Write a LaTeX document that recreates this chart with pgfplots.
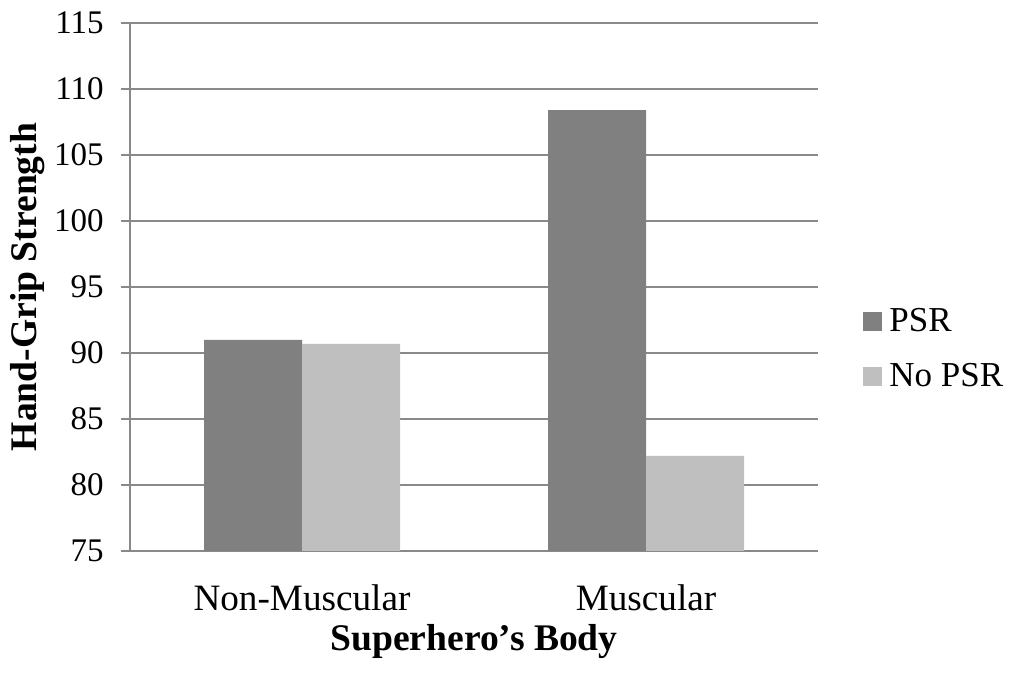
\documentclass[border=0pt]{standalone}
\usepackage{pgfplots}
\pgfplotsset{compat=1.18}
\usepackage{fontspec}
\setmainfont{Liberation Serif}
\definecolor{psr}{RGB}{128,128,128}
\definecolor{nopsr}{RGB}{191,191,191}
\definecolor{gridc}{RGB}{137,137,137}
\begin{document}
\begin{tikzpicture}
\path[use as bounding box] (-65pt,-61pt) rectangle (443pt,275.5pt);
\begin{axis}[
  at={(0,0)}, anchor=south west,
  scale only axis, width=344pt, height=264pt,
  ybar=0pt, bar width=49pt,
  xmin=-0.5, xmax=1.5, ymin=75, ymax=115,
  xtick={0,1}, xticklabels={Non-Muscular,Muscular},
  ytick={75,80,...,115},
  /pgf/number format/assume math mode=true,
  ymajorgrids, grid style={gridc, line width=0.75pt},
  axis x line*=bottom, axis y line*=left,
  axis line style={gridc, line width=0.75pt, -},
  x axis line style={draw=none},
  xtick style={draw=none},
  ytick style={gridc, line width=0.75pt},
  tick align=outside, major tick length=4.5pt,
  yticklabel style={font=\fontsize{16.5}{20}\selectfont, anchor=east, inner sep=0pt, xshift=-8.5pt},
  xticklabel style={font=\fontsize{18.6}{22}\selectfont, anchor=base, inner sep=0pt, yshift=-25.5pt},
  xlabel={\textbf{Superhero’s Body}},
  ylabel={\textbf{Hand-Grip Strength}},
  label style={font=\fontsize{18.8}{22}\selectfont},
  xlabel style={at={(axis description cs:0.5,-0.1705)}, anchor=center},
  ylabel style={at={(axis description cs:-0.1483,0.5)}, anchor=center, rotate=0},
  legend style={draw=none, fill=none, at={(rel axis cs:1.0654,0.382)}, anchor=west,
    inner sep=0pt, font=\fontsize{17.5}{21}\selectfont, row sep=10.5pt,
    nodes={inner xsep=3.5pt},
    /tikz/every even column/.append style={column sep=0pt}},
  legend cell align=left,
  legend image code/.code={\fill[#1] (0pt,-4.75pt) rectangle (9.5pt,4.75pt);},
]
\draw[gridc, line width=0.75pt] (rel axis cs:0,0) -- (rel axis cs:1,0);
\addplot[fill=psr, draw=none] coordinates {(0,91.0) (1,108.4)};
\addplot[fill=nopsr, draw=none] coordinates {(0,90.7) (1,82.2)};
\legend{PSR,No PSR}
\end{axis}
\end{tikzpicture}
\end{document}
